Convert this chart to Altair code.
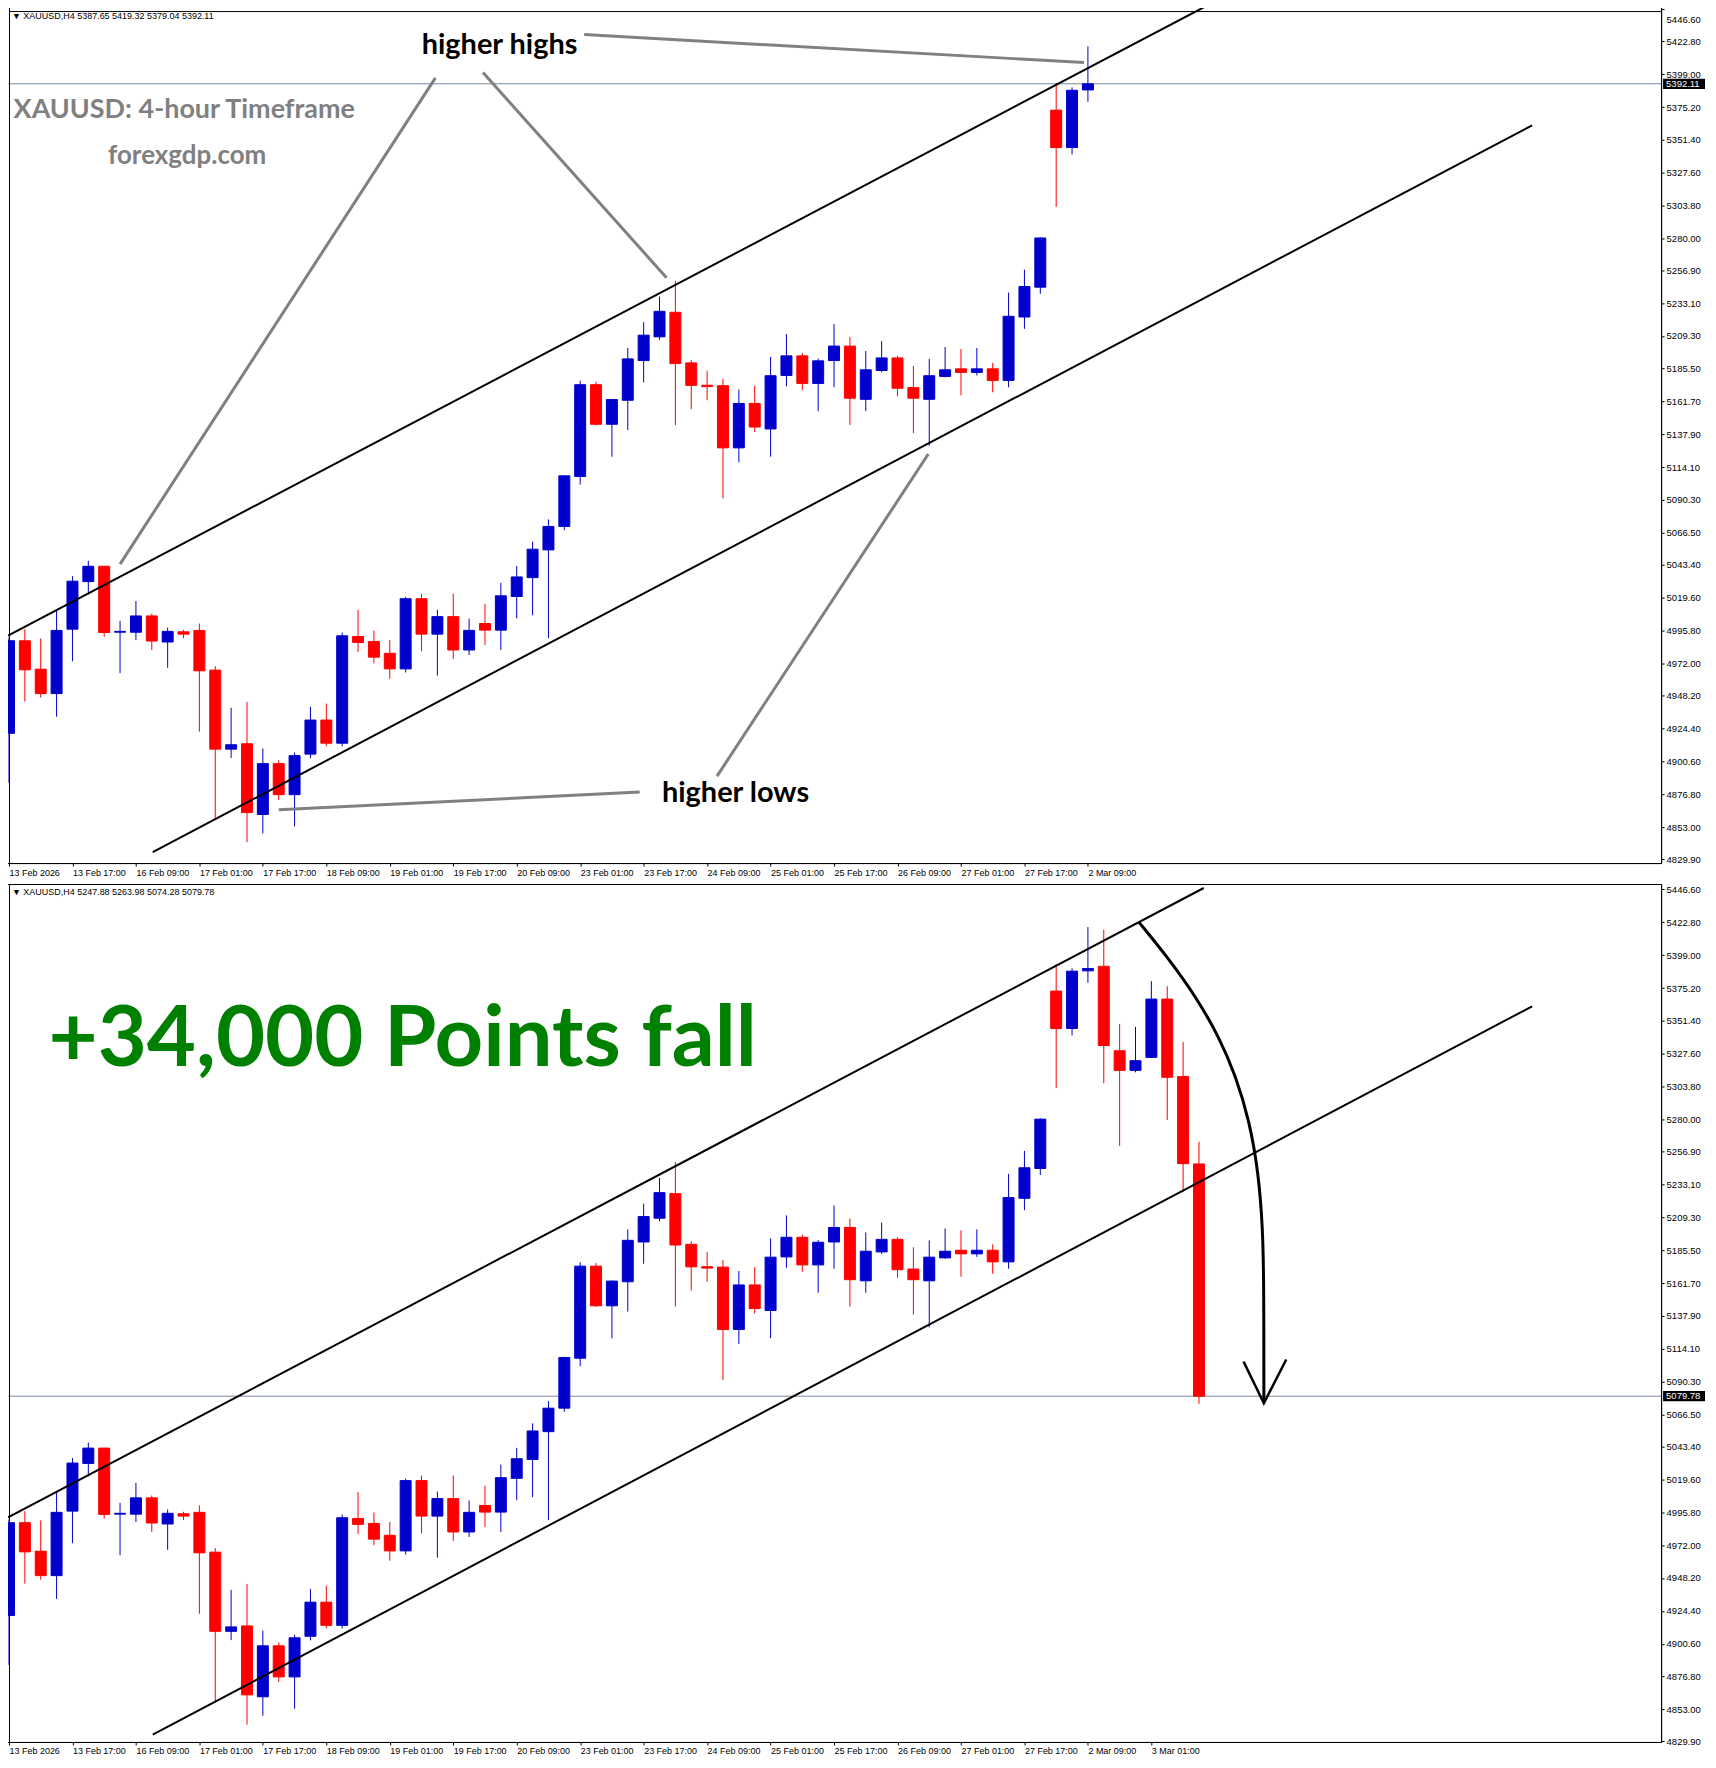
import altair as alt
import pandas as pd

# ---------------- candles common to both panels (index 0 = 13 Feb 01:00, H4) ----------------
OPEN = [4921.1, 4988.2, 4967.6, 4949.9, 4996.6, 5031.1, 5042.2, 4994.4, 4994.4, 5006.2,
        4987.3, 4994.7, 4995.7, 4966.9, 4909.6, 4913.5, 4862.2, 4899.1, 4876.6, 4906.0,
        4930.7, 4913.9, 4991.3, 4987.7, 4979.1, 4967.8, 5018.7, 4993.0, 5005.7, 4981.5,
        5000.7, 4995.9, 5020.3, 5034.0, 5054.1, 5071.1, 5107.3, 5173.9, 5145.2, 5162.6,
        5191.4, 5208.6, 5226.4, 5189.7, 5173.5, 5173.2, 5128.1, 5160.3, 5141.8, 5180.6,
        5194.8, 5174.8, 5191.4, 5201.9, 5163.3, 5184.2, 5193.3, 5171.8, 5163.3, 5179.9,
        5185.4, 5182.8, 5185.4, 5177.0, 5223.0, 5244.6, 5373.0, 5345.9]
HIGH = [4990.5, 4996.6, 4989.9, 5010.2, 5035.0, 5046.2, 5042.4, 5002.6, 5017.0, 5007.9,
        4997.8, 4996.1, 5000.7, 4969.8, 4939.6, 4943.9, 4910.1, 4901.5, 4907.2, 4940.3,
        4942.7, 4994.2, 5010.5, 4995.6, 4988.7, 5020.1, 5022.3, 5010.7, 5022.3, 5004.3,
        5015.0, 5030.2, 5042.4, 5060.1, 5076.2, 5108.3, 5176.8, 5176.1, 5163.5, 5200.5,
        5219.2, 5237.8, 5249.3, 5191.9, 5184.0, 5178.2, 5170.4, 5173.2, 5194.0, 5210.6,
        5196.9, 5192.8, 5217.8, 5208.4, 5198.3, 5205.5, 5194.8, 5187.6, 5192.6, 5201.2,
        5199.8, 5200.5, 5189.7, 5240.7, 5257.3, 5281.0, 5392.6, 5389.5]
LOW = [4885.2, 4944.1, 4947.0, 4933.1, 4973.4, 5021.7, 4991.1, 4964.7, 4988.7, 4981.5,
       4968.6, 4990.1, 4922.3, 4858.9, 4903.2, 4842.1, 4848.5, 4872.8, 4853.6, 4903.0,
       4911.6, 4911.6, 4980.1, 4971.9, 4960.7, 4965.2, 4980.6, 4962.9, 4975.0, 4977.9,
       4985.1, 4981.5, 5004.5, 5006.7, 4990.1, 5068.5, 5101.5, 5144.4, 5121.7, 5141.0,
       5175.6, 5206.5, 5144.7, 5156.2, 5162.6, 5091.5, 5117.6, 5139.6, 5121.7, 5172.7,
       5169.8, 5154.7, 5172.0, 5144.7, 5154.7, 5182.8, 5165.5, 5138.9, 5129.6, 5179.2,
       5166.2, 5180.6, 5168.4, 5172.0, 5214.4, 5239.8, 5302.8, 5340.9]
CLOSE = [4988.2, 4967.1, 4949.9, 4995.7, 5031.4, 5042.2, 4994.2, 4995.0, 5006.2, 4988.0,
         4995.0, 4993.0, 4966.4, 4909.6, 4912.8, 4863.6, 4899.1, 4876.6, 4904.9, 4930.7,
         4913.9, 4991.8, 4987.0, 4976.3, 4967.8, 5018.7, 4993.0, 5005.7, 4981.5, 4995.7,
         4995.9, 5020.8, 5034.5, 5054.6, 5071.1, 5107.8, 5173.9, 5145.2, 5163.1, 5192.6,
         5209.8, 5227.1, 5189.2, 5173.4, 5172.5, 5128.1, 5160.3, 5143.2, 5180.4, 5194.8,
         5174.8, 5191.2, 5201.9, 5164.1, 5184.7, 5193.3, 5171.3, 5164.1, 5180.4, 5184.7,
         5182.8, 5185.4, 5177.0, 5223.5, 5245.1, 5280.3, 5345.9, 5387.4]

# panel 1: last (forming) candle, 2 Mar 09:00
P1_LAST_OHLC = [5387.65, 5419.32, 5379.04, 5392.11]
# panel 2: candles 2 Mar 09:00 -> 3 Mar 13:00
P2_OPEN = [5387.65, 5390.9, 5329.8, 5315.6, 5325.0, 5367.2, 5311.1, 5247.88]
P2_HIGH = [5419.32, 5417.5, 5349.2, 5347.1, 5380.2, 5376.5, 5336.2, 5263.98]
P2_LOW = [5379.04, 5306.3, 5261.0, 5314.2, 5325.0, 5279.7, 5227.5, 5074.28]
P2_CLOSE = [5389.3, 5333.6, 5315.6, 5322.6, 5367.2, 5310.6, 5248.1, 5079.78]

X_LABELS = ["13 Feb 2026", "13 Feb 17:00", "16 Feb 09:00", "17 Feb 01:00", "17 Feb 17:00",
            "18 Feb 09:00", "19 Feb 01:00", "19 Feb 17:00", "20 Feb 09:00", "23 Feb 01:00",
            "23 Feb 17:00", "24 Feb 09:00", "25 Feb 01:00", "25 Feb 17:00", "26 Feb 09:00",
            "27 Feb 01:00", "27 Feb 17:00", "2 Mar 09:00", "3 Mar 01:00"]
Y_TICKS = [5446.60, 5422.80, 5399.00, 5375.20, 5351.40, 5327.60, 5303.80, 5280.00, 5256.90,
           5233.10, 5209.30, 5185.50, 5161.70, 5137.90, 5114.10, 5090.30, 5066.50, 5043.40,
           5019.60, 4995.80, 4972.00, 4948.20, 4924.40, 4900.60, 4876.80, 4853.00, 4829.90]

HEADER1 = "\u25bc XAUUSD,H4  5387.65 5419.32 5379.04 5392.11"
HEADER2 = "\u25bc XAUUSD,H4  5247.88 5263.98 5074.28 5079.78"

# channel lines (bar index, price)
CH_SEG = ["upper", "upper", "lower", "lower"]
CH_I = [-0.06, 75.3, 9.06, 96.0]
CH_P = [4992.0, 5447.6, 4834.9, 5362.0]

# grey pointer lines on panel 1
GR_SEG = ["g1", "g1", "g2", "g2", "g3", "g3", "g4", "g4", "g5", "g5"]
GR_I = [36.25, 67.75, 26.875, 7.0, 29.875, 41.44, 39.75, 17.0, 44.625, 57.94]
GR_P = [5427.8, 5407.5, 5396.4, 5043.8, 5400.3, 5251.5, 4878.5, 4865.6, 4890.0, 5123.6]

# curved arrow on panel 2
CURVE_I = [71.2, 73.1, 74.86, 76.27, 77.33, 78.18, 78.74, 79.02, 79.09, 79.09]
CURVE_P = [5423.1, 5396.4, 5368.0, 5339.7, 5311.3, 5278.8, 5242.4, 5201.9, 5161.3, 5076.3]
HEAD_I = [77.81, 79.09, 80.5]
HEAD_P = [5104.8, 5074.7, 5106.3]

W, H = 1662, 860
XDOM = [-0.0625, (W - 1) / 16.0]
YDOM1 = [4827.0, 5449.2]
YDOM2 = [4829.5, 5450.5]
AX_FONT = "Liberation Sans"
ANN_FONT = "Lato"


def candles(o, h, l, c):
    df = pd.DataFrame({"i": list(range(len(o))), "o": o, "h": h, "l": l, "c": c})
    df["dir"] = ["up" if cc >= oo else "down" for oo, cc in zip(o, c)]
    return df


def panel(df, header, last_price, n_labels, ydom, flush, top_line, extra_layers):
    xs = alt.Scale(domain=XDOM, nice=False, zero=False)
    ys = alt.Scale(domain=ydom, nice=False, zero=False)
    label_expr = "[" + ",".join("'%s'" % s for s in X_LABELS[:n_labels]) + "][round(datum.value/4)]"
    xaxis = alt.Axis(values=[4 * k for k in range(n_labels)], labelExpr=label_expr, title=None,
                     grid=False, tickSize=3, labelAlign="left", labelOffset=0, labelPadding=2,
                     labelFont=AX_FONT, labelFontSize=9, labelColor="black", domainColor="black",
                     tickColor="black", labelFlush=False, labelOverlap=False,
                     minExtent=14, maxExtent=14)
    yargs = dict(orient="right", values=Y_TICKS, format=".2f", title=None, grid=False,
                 tickSize=3, labelPadding=2, labelFont=AX_FONT, labelFontSize=9.5,
                 labelColor="black", domainColor="black", tickColor="black",
                 labelOverlap=False, minExtent=46, maxExtent=46)
    if flush:
        yargs.update(labelFlush=3.8, labelFlushOffset=-6)
    else:
        yargs.update(labelFlush=False)
    yaxis = alt.Axis(**yargs)

    def X(f):
        return alt.X(f, scale=xs, axis=xaxis)

    def Y(f):
        return alt.Y(f, scale=ys, axis=yaxis)

    cscale = alt.Scale(domain=["up", "down"], range=["#0000CD", "#FF0000"])
    base = alt.Chart(df)
    price_df = pd.DataFrame({"p": [last_price]})

    hline = alt.Chart(price_df).mark_rule(color="#778899", strokeWidth=1).encode(y=Y("p:Q"))
    wick = base.mark_rule(strokeWidth=1).encode(
        x=X("i:Q"), y=Y("l:Q"), y2="h:Q",
        color=alt.Color("dir:N", scale=cscale, legend=None))
    body = base.mark_bar(width=11, strokeWidth=1).encode(
        x=X("i:Q"), y=Y("o:Q"), y2="c:Q",
        color=alt.Color("dir:N", scale=cscale, legend=None),
        stroke=alt.Stroke("dir:N", scale=cscale, legend=None))

    ch_df = pd.DataFrame({"seg": CH_SEG, "i": CH_I, "p": CH_P, "k": list(range(len(CH_I)))})
    channel = alt.Chart(ch_df).mark_line(color="black", strokeWidth=2, clip=True).encode(
        x=X("i:Q"), y=Y("p:Q"), detail="seg:N", order="k:Q")

    # visible frame edges (the real plot edge sits under the page margin)
    edge_l = alt.Chart(price_df).mark_rule(color="black", strokeWidth=1).encode(
        x=alt.value(6.5), y=alt.value(0), y2=alt.value(H))
    edges = [edge_l]
    if top_line:
        edges.append(alt.Chart(price_df).mark_rule(color="black", strokeWidth=1).encode(
            x=alt.value(6), x2=alt.value(W), y=alt.value(6.5)))

    head = alt.Chart(pd.DataFrame({"t": [header]})).mark_text(
        align="left", baseline="middle", font=AX_FONT, fontSize=9, color="black").encode(
        x=alt.value(9), y=alt.value(11 if top_line else 8), text="t:N")

    box = alt.Chart(price_df).transform_calculate(
        lo="datum.p - 3.7", hi="datum.p + 3.7").mark_rect(color="black").encode(
        x=alt.value(W + 2), x2=alt.value(W + 44), y=Y("lo:Q"), y2="hi:Q")
    boxtxt = alt.Chart(price_df).mark_text(
        align="left", baseline="middle", font=AX_FONT, fontSize=9.5, color="white").encode(
        x=alt.value(W + 5), y=Y("p:Q"), text=alt.Text("p:Q", format=".2f"))

    layers = ([hline, wick, body, channel] + [f(X, Y) for f in extra_layers]
              + edges + [head, box, boxtxt])
    return alt.layer(*layers).properties(width=W, height=H)


def text_layer(txt, i, p, size, color, align):
    def f(X, Y):
        return alt.Chart(pd.DataFrame({"t": [txt], "i": [i], "p": [p]})).mark_text(
            align=align, baseline="middle", font=ANN_FONT, fontWeight="bold",
            fontSize=size, color=color).encode(x=X("i:Q"), y=Y("p:Q"), text="t:N")
    return f


def grey_lines(X, Y):
    g = pd.DataFrame({"seg": GR_SEG, "i": GR_I, "p": GR_P, "k": list(range(len(GR_I)))})
    return alt.Chart(g).mark_line(color="#808080", strokeWidth=3, clip=True).encode(
        x=X("i:Q"), y=Y("p:Q"), detail="seg:N", order="k:Q")


def curve_arrow(X, Y):
    c = pd.DataFrame({"i": CURVE_I, "p": CURVE_P, "k": list(range(len(CURVE_I)))})
    return alt.Chart(c).mark_line(color="black", strokeWidth=3, interpolate="basis").encode(
        x=X("i:Q"), y=Y("p:Q"), order="k:Q")


def arrow_head(X, Y):
    h = pd.DataFrame({"i": HEAD_I, "p": HEAD_P, "k": list(range(len(HEAD_I)))})
    return alt.Chart(h).mark_line(color="black", strokeWidth=2.5).encode(
        x=X("i:Q"), y=Y("p:Q"), order="k:Q")


df1 = candles(OPEN + [P1_LAST_OHLC[0]], HIGH + [P1_LAST_OHLC[1]],
              LOW + [P1_LAST_OHLC[2]], CLOSE + [P1_LAST_OHLC[3]])
df2 = candles(OPEN + P2_OPEN, HIGH + P2_HIGH, LOW + P2_LOW, CLOSE + P2_CLOSE)

p1 = panel(df1, HEADER1, P1_LAST_OHLC[3], 18, YDOM1, True, True, [
    grey_lines,
    text_layer("higher highs", 30.92, 5420.4, 29, "black", "center"),
    text_layer("XAUUSD: 4-hour Timeframe", 0.29, 5373.4, 27, "#808080", "left"),
    text_layer("forexgdp.com", 6.24, 5340.0, 26, "#808080", "left"),
    text_layer("higher lows", 45.79, 4878.0, 29, "black", "center"),
])
p2 = panel(df2, HEADER2, P2_CLOSE[-1], 19, YDOM2, False, False, [
    curve_arrow, arrow_head,
    text_layer("+34,000 Points fall", 2.49, 5337.5, 85, "#008000", "left"),
])

chart = alt.vconcat(p1, p2, spacing=5).properties(
    padding={"left": -6, "top": -6, "right": 0, "bottom": 0}).configure_view(
    stroke="black", strokeWidth=1)

chart.save("out.html", embed_options={"renderer": "svg", "actions": False})
